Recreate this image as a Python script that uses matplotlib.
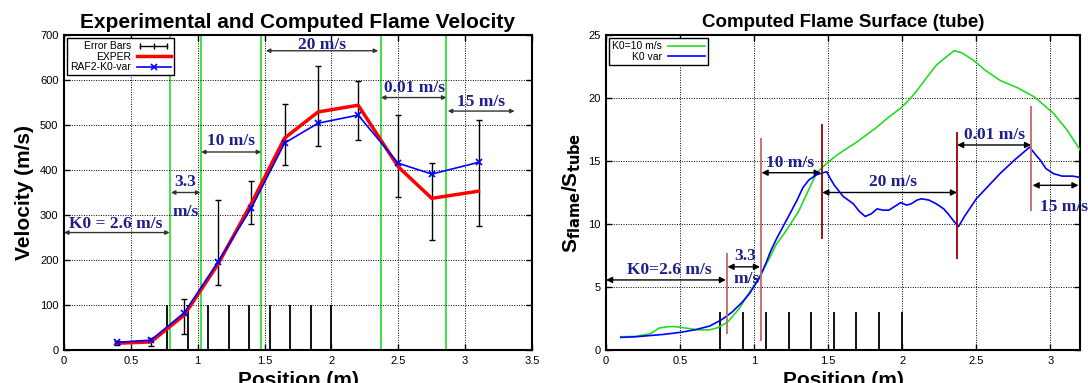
import matplotlib
matplotlib.use('Agg')
import matplotlib.pyplot as plt
from matplotlib.lines import Line2D
from matplotlib.legend_handler import HandlerLine2D

plt.rcParams['font.family'] = ['Liberation Sans', 'DejaVu Sans']

# left panel data
pos = [0.4, 0.65, 0.9, 1.15, 1.4, 1.65, 1.9, 2.2, 2.5, 2.75, 3.1]
exper = [15, 18, 78, 190, 325, 471, 529, 544, 407, 337, 353]
raf2 = [17, 22, 83, 195, 315, 460, 504, 522, 415, 391, 417]
err_low = [12, 10, 35, 145, 280, 412, 453, 466, 339, 244, 275]
err_high = [20, 26, 114, 333, 376, 546, 632, 598, 522, 415, 512]

# sensor positions (short black bars)
sensors = [0.77, 0.925, 1.08, 1.235, 1.385, 1.54, 1.69, 1.845, 2.0]
# K0 change positions
k0_left = [0.79, 1.025, 1.475, 2.37, 2.86]
k0_right = [0.815, 1.045, 1.457, 2.37, 2.87]
k0_right_lo = [1.3, 0.7, 8.8, 7.2, 11.0]
k0_right_hi = [7.7, 16.8, 17.9, 17.3, 19.4]

# right panel curves
g_x = [0.10, 0.20, 0.30, 0.36, 0.42, 0.47, 0.55, 0.62, 0.70, 0.75, 0.82, 0.90,
       0.97, 1.04, 1.10, 1.15, 1.20, 1.24, 1.30, 1.36, 1.42, 1.46, 1.54, 1.60,
       1.68, 1.75, 1.83, 1.90, 1.99, 2.05, 2.10, 2.17, 2.23, 2.28, 2.35, 2.40,
       2.48, 2.56, 2.66, 2.78, 2.89, 2.96, 3.02, 3.11, 3.20]
g_y = [1.05, 1.08, 1.3, 1.75, 1.85, 1.85, 1.72, 1.6, 1.6, 1.75, 2.2, 3.3,
       4.6, 5.9, 7.2, 8.4, 9.2, 9.9, 11.0, 12.5, 14.0, 14.5, 15.3, 15.8,
       16.4, 17.0, 17.7, 18.4, 19.2, 19.9, 20.6, 21.7, 22.6, 23.1, 23.75, 23.6,
       23.0, 22.2, 21.4, 20.8, 20.1, 19.4, 18.8, 17.5, 15.9]
b_x = [0.10, 0.20, 0.30, 0.40, 0.50, 0.60, 0.70, 0.78, 0.85, 0.92, 0.97, 1.04,
       1.08, 1.11, 1.15, 1.20, 1.25, 1.29, 1.33, 1.37, 1.42, 1.46, 1.49, 1.51,
       1.54, 1.60, 1.67, 1.71, 1.75, 1.79, 1.83, 1.87, 1.91, 1.95, 1.99, 2.03,
       2.06, 2.10, 2.13, 2.18, 2.23, 2.28, 2.31, 2.35, 2.38, 2.42, 2.50, 2.58,
       2.66, 2.76, 2.86, 2.90, 2.93, 2.97, 3.02, 3.08, 3.15, 3.20]
b_y = [1.0, 1.05, 1.15, 1.25, 1.4, 1.6, 1.9, 2.4, 3.0, 3.8, 4.5, 5.8,
       6.9, 7.8, 8.8, 9.9, 11.0, 11.9, 12.9, 13.5, 13.9, 14.05, 14.15, 13.7,
       13.1, 12.2, 11.6, 11.0, 10.6, 10.8, 11.2, 11.1, 11.1, 11.4, 11.7, 11.5,
       11.6, 11.9, 12.0, 11.9, 11.6, 11.2, 10.8, 10.2, 9.8, 10.6, 12.0, 13.0,
       14.0, 15.1, 16.1, 15.5, 15.1, 14.4, 14.0, 13.8, 13.8, 13.7]

navy = '#1e1e8c'
green = '#22dd22'


def style_axes(ax):
    ax.grid(True, color='black', linestyle=(0, (1, 1.5)), linewidth=0.7)
    ax.tick_params(direction='in', top=True, right=True, labelsize=8,
                   length=4, width=1, pad=4)
    for s in ax.spines.values():
        s.set_linewidth(1.5)


def dbl_arrow(ax, x0, x1, y, col, scale):
    ax.annotate('', xy=(x1, y), xytext=(x0, y),
                arrowprops=dict(arrowstyle='<|-|>', color=col, lw=1,
                                mutation_scale=scale, shrinkA=0, shrinkB=0))


def label(ax, x, y, s):
    ax.text(x, y, s, color=navy, fontsize=12.5, fontweight='bold',
            family='Liberation Serif', ha='center', va='bottom')


fig = plt.figure(figsize=(10.88, 3.83), dpi=100)
ax1 = fig.add_axes([64 / 1088, 33 / 383, 468 / 1088, 315 / 383])
ax2 = fig.add_axes([606 / 1088, 33 / 383, 474 / 1088, 315 / 383])

# ---- left panel ----
for xv in k0_left:
    ax1.axvline(xv, color=green, lw=1.2, zorder=1)
ax1.vlines(sensors, 0, 100, color='black', lw=1.3, zorder=2)
ctr = [(lo + hi) / 2 for lo, hi in zip(err_low, err_high)]
half = [(hi - lo) / 2 for lo, hi in zip(err_low, err_high)]
ax1.errorbar(pos, ctr, yerr=half, fmt='none', ecolor='black', elinewidth=1,
             capsize=2.5, capthick=1, zorder=3)
l_exp, = ax1.plot(pos, exper, color='red', lw=2.5, label='EXPER', zorder=4)
l_raf, = ax1.plot(pos, raf2, color='blue', lw=1.2, marker='x', ms=5, mew=1.2,
                  label='RAF2-K0-var', zorder=5)
# horizontal errorbar-like handle for the legend (gnuplot style)
eb_proxy = Line2D([], [], color='black', lw=1, marker='|', ms=5, mew=1)

ax1.set_xlim(0, 3.5)
ax1.set_ylim(0, 700)
ax1.set_xticks([0, 0.5, 1, 1.5, 2, 2.5, 3, 3.5])
ax1.set_xticklabels(['0', '0.5', '1', '1.5', '2', '2.5', '3', '3.5'])
ax1.set_yticks(range(0, 701, 100))
style_axes(ax1)
ax1.set_title('Experimental and Computed Flame Velocity', fontsize=15,
              fontweight='bold', pad=5)
ax1.set_xlabel('Position (m)', fontsize=15, fontweight='bold', labelpad=4)
ax1.set_ylabel('Velocity (m/s)', fontsize=15, fontweight='bold', labelpad=4)

acol = '#333333'
dbl_arrow(ax1, 0.0, 0.79, 261, acol, 6)
label(ax1, 0.39, 262, 'K0 = 2.6 m/s')
dbl_arrow(ax1, 0.8, 1.02, 350, acol, 6)
label(ax1, 0.91, 355, '3.3')
label(ax1, 0.91, 290, 'm/s')
dbl_arrow(ax1, 1.025, 1.475, 440, acol, 6)
label(ax1, 1.25, 446, '10 m/s')
dbl_arrow(ax1, 1.51, 2.35, 665, acol, 6)
label(ax1, 1.93, 660, '20 m/s')
dbl_arrow(ax1, 2.37, 2.86, 561, acol, 6)
label(ax1, 2.62, 565, '0.01 m/s')
dbl_arrow(ax1, 2.87, 3.37, 531, acol, 6)
label(ax1, 3.12, 533, '15 m/s')

leg1 = ax1.legend([eb_proxy, l_exp, l_raf], ['Error Bars', 'EXPER', 'RAF2-K0-var'],
                  handler_map={eb_proxy: HandlerLine2D(numpoints=3)},
                  loc='upper left', markerfirst=False, fontsize=7.5,
                  fancybox=False, edgecolor='black', framealpha=1,
                  borderpad=0.3, labelspacing=0.05, handlelength=3.2,
                  handletextpad=0.6, borderaxespad=0.3, numpoints=1)
leg1.get_frame().set_linewidth(1)

# ---- right panel ----
ax2.vlines(sensors, 0, 3, color='black', lw=1.3, zorder=2)
ax2.plot(g_x, g_y, color=green, lw=1.2, label='K0=10 m/s', zorder=3)
ax2.plot(b_x, b_y, color='blue', lw=1.2, label='K0 var', zorder=4)
rcols = ['#c06a6a', '#c06a6a', '#990000', '#990000', '#c06a6a']
ax2.vlines(k0_right, k0_right_lo, k0_right_hi, colors=rcols, lw=1.3, zorder=5)

ax2.set_xlim(0, 3.2)
ax2.set_ylim(0, 25)
ax2.set_xticks([0, 0.5, 1, 1.5, 2, 2.5, 3])
ax2.set_xticklabels(['0', '0.5', '1', '1.5', '2', '2.5', '3'])
ax2.set_yticks(range(0, 26, 5))
style_axes(ax2)
ax2.set_title('Computed Flame Surface (tube)', fontsize=13.5,
              fontweight='bold', pad=6)
ax2.set_xlabel('Position (m)', fontsize=15, fontweight='bold', labelpad=4)
ax2.set_ylabel(r'S$_{\mathbf{flame}}$/S$_{\mathbf{tube}}$', fontsize=15,
               fontweight='bold', labelpad=4)

dbl_arrow(ax2, 0.0, 0.81, 5.56, 'black', 9)
label(ax2, 0.43, 5.7, 'K0=2.6 m/s')
dbl_arrow(ax2, 0.82, 1.04, 6.6, 'black', 9)
label(ax2, 0.94, 6.8, '3.3')
label(ax2, 0.95, 5.0, 'm/s')
dbl_arrow(ax2, 1.05, 1.45, 14.07, 'black', 9)
label(ax2, 1.24, 14.2, '10 m/s')
dbl_arrow(ax2, 1.46, 2.37, 12.5, 'black', 9)
label(ax2, 1.94, 12.7, '20 m/s')
dbl_arrow(ax2, 2.37, 2.87, 16.27, 'black', 9)
label(ax2, 2.62, 16.4, '0.01 m/s')
dbl_arrow(ax2, 2.88, 3.19, 13.07, 'black', 9)
label(ax2, 3.09, 10.7, '15 m/s')

leg2 = ax2.legend(loc='upper left', markerfirst=False, fontsize=7.5,
                  fancybox=False, edgecolor='black', framealpha=1,
                  borderpad=0.3, labelspacing=0.05, handlelength=3.5,
                  handletextpad=0.6, borderaxespad=0.3)
leg2.get_frame().set_linewidth(1)

fig.savefig('out.png', dpi=100)
